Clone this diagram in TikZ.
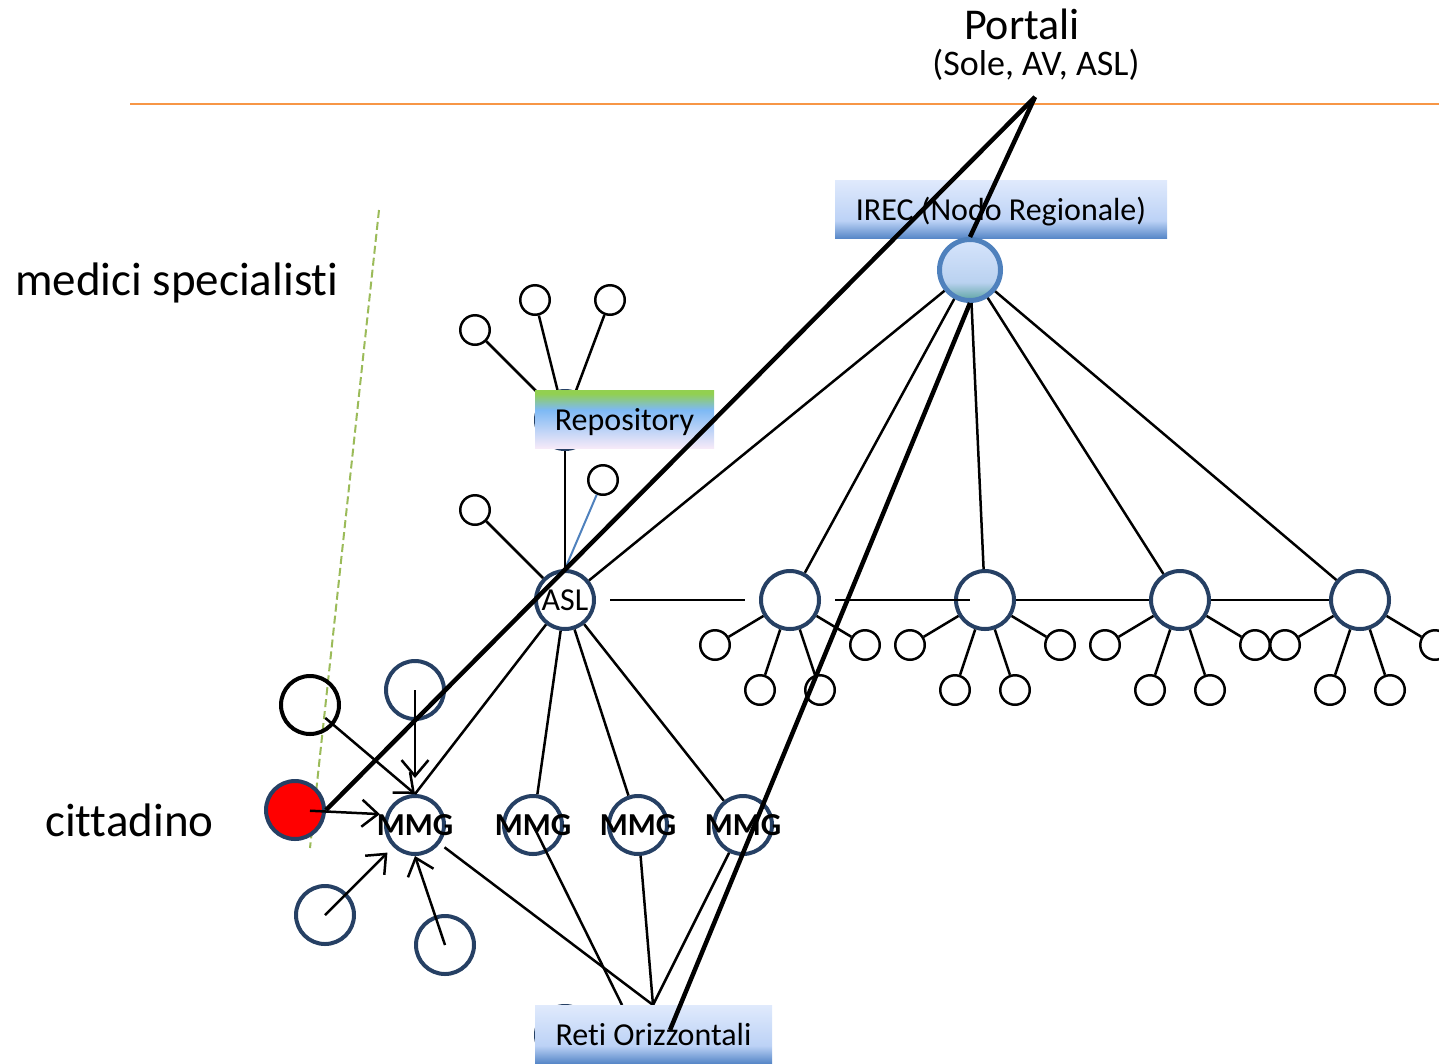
\documentclass[tikz,border=0pt]{standalone}
\usepackage{fontspec}
\setmainfont{Carlito}[Ligatures={NoCommon,NoContextual,NoRequired}]
\usetikzlibrary{arrows.meta}
\definecolor{navyline}{RGB}{38,64,100}
\definecolor{irecblue}{RGB}{79,129,189}
\definecolor{portalorange}{RGB}{247,150,70}
\definecolor{specgreen}{RGB}{155,187,89}
\definecolor{boxtop}{RGB}{224,234,252}
\definecolor{boxmid}{RGB}{188,210,246}
\definecolor{boxbottom}{RGB}{88,136,200}
\definecolor{repotop}{RGB}{146,208,80}
\definecolor{repomid}{RGB}{125,185,245}
\definecolor{repobottom}{RGB}{246,234,248}
\definecolor{hubtop}{RGB}{214,228,252}
\definecolor{hubmid}{RGB}{186,210,240}
\definecolor{hubbottom}{RGB}{104,170,172}
\pgfdeclareverticalshading{bannershade}{100bp}{color(0bp)=(boxbottom); color(25bp)=(boxbottom); color(40bp)=(boxmid); color(75bp)=(boxtop); color(100bp)=(boxtop)}
\pgfdeclareverticalshading{reposhade}{100bp}{color(0bp)=(repobottom); color(25bp)=(repobottom); color(58bp)=(repomid); color(72bp)=(repotop); color(100bp)=(repotop)}
\pgfdeclareverticalshading{hubshade}{100bp}{color(0bp)=(hubbottom); color(27bp)=(hubbottom); color(40bp)=(hubmid); color(75bp)=(hubtop); color(100bp)=(hubtop)}
\tikzset{
    Hub/.style = {circle, draw=navyline, line width=4pt, minimum size=58pt, inner sep=0pt}
}
\tikzset{
    Leaf/.style = {circle, draw=black, line width=2.5pt, minimum size=29.5pt, inner sep=0pt}
}
\tikzset{
    Link/.style = {draw=black, line width=2.5pt}
}
\tikzset{
    Feed/.style = {draw=black, line width=2.5pt, -{Straight Barb[length=16pt,width=27pt]}}
}

\begin{document}
\begin{tikzpicture}[
    x=1pt, y=-1pt,
    font=\fontsize{32}{38}\selectfont
]
\tikzset{
    Banner/.style = {minimum height=58pt, inner sep=0pt, text height=22pt, text depth=0pt, shade, shading=bannershade},
    Portal/.style = {draw=black, line width=4.5pt},
    MmgText/.style = {inner sep=0pt, font=\bfseries\fontsize{32}{38}\selectfont},
}
\useasboundingbox (0,0) rectangle (1439,1063);

% titles
\node[anchor=west, inner sep=0pt, font=\fontsize{47}{54}\selectfont] at (15,283) (medici) {medici specialisti};
\node[anchor=west, inner sep=0pt, font=\fontsize{47}{54}\selectfont] at (45,820) (cittadinolab) {cittadino};
\node[inner sep=0pt, font=\fontsize{44}{50}\selectfont] at (1022,24) (portali) {Portali};
\node[inner sep=0pt, font=\fontsize{36}{42}\selectfont] at (1036,65) (portalisub) {(Sole, AV, ASL)};

\coordinate (bandl) at (130,104);
\coordinate (bandr) at (1439,104);
\draw[portalorange, line width=2.5pt] (bandl) -- (bandr);
\coordinate (spectop) at (379,210);
\coordinate (specbot) at (310,848);
\draw[specgreen, line width=2pt, dash pattern=on 8pt off 4pt] (spectop) -- (specbot);

% regional node
\node[Banner, minimum width=332pt] at (1001,209) (irecbox) {IREC (Nodo Regionale)};
\node[Hub, draw=irecblue, line width=5pt, minimum size=61pt, shade, shading=hubshade] at (970,270) (irec) {};

% repository
\node[Hub] at (565,420) (repo) {};
\node[Leaf] at (475,330) (repoa) {};
\node[Leaf] at (535,300) (repob) {};
\node[Leaf] at (610,300) (repoc) {};
\path (repoa) edge [Link] (repo);
\path (repob) edge [Link] (repo);
\path (repoc) edge [Link] (repo);
\node[Banner, minimum width=179pt, shading=reposhade] at (624.5,419) (repobox) {Repository};

% ASL
\node[Hub, label={center:ASL}] at (565,600) (asl) {};
\node[Leaf] at (475,510) (asla) {};
\node[Leaf] at (603,480) (aslb) {};
\path (asla) edge [Link] (asl);
\path (aslb) edge [Link, draw=irecblue, line width=2pt] (asl.north);
\path (repo) edge [Link] (asl);
\path (asl) edge [Link] (irec);

% other ASL
\node[Hub] at (790,600) (ausla) {};
\node[Hub] at (985,600) (auslb) {};
\node[Hub] at (1180,600) (auslc) {};
\node[Hub] at (1360,600) (ausld) {};
\path (asl) edge [Link, shorten <=14pt, shorten >=14pt] (ausla);
\path (ausla) edge [Link, shorten <=14pt, shorten >=15pt] (auslb.center);
\path (auslb) edge [Link] (auslc);
\path (auslc) edge [Link] (ausld);
\path (irec) edge [Link] (ausla);
\path (irec) edge [Link] (auslb);
\path (irec) edge [Link] (auslc);
\path (irec) edge [Link] (ausld);

\node[Leaf] at (715,645) (ausla1) {};
\node[Leaf] at (760,690) (ausla2) {};
\node[Leaf] at (820,690) (ausla3) {};
\node[Leaf] at (865,645) (ausla4) {};
\node[Leaf] at (910,645) (auslb1) {};
\node[Leaf] at (955,690) (auslb2) {};
\node[Leaf] at (1015,690) (auslb3) {};
\node[Leaf] at (1060,645) (auslb4) {};
\node[Leaf] at (1105,645) (auslc1) {};
\node[Leaf] at (1150,690) (auslc2) {};
\node[Leaf] at (1210,690) (auslc3) {};
\node[Leaf] at (1255,645) (auslc4) {};
\node[Leaf] at (1285,645) (ausld1) {};
\node[Leaf] at (1330,690) (ausld2) {};
\node[Leaf] at (1390,690) (ausld3) {};
\node[Leaf] at (1435,645) (ausld4) {};
\path (ausla1) edge [Link] (ausla);
\path (ausla2) edge [Link] (ausla);
\path (ausla3) edge [Link] (ausla);
\path (ausla4) edge [Link] (ausla);
\path (auslb1) edge [Link] (auslb);
\path (auslb2) edge [Link] (auslb);
\path (auslb3) edge [Link] (auslb);
\path (auslb4) edge [Link] (auslb);
\path (auslc1) edge [Link] (auslc);
\path (auslc2) edge [Link] (auslc);
\path (auslc3) edge [Link] (auslc);
\path (auslc4) edge [Link] (auslc);
\path (ausld1) edge [Link] (ausld);
\path (ausld2) edge [Link] (ausld);
\path (ausld3) edge [Link] (ausld);
\path (ausld4) edge [Link] (ausld);

% MMG
\node[Hub, label={[MmgText]center:MMG}] at (415,825) (mmga) {};
\node[Hub, label={[MmgText]center:MMG}] at (533,825) (mmgb) {};
\node[Hub, label={[MmgText]center:MMG}] at (638,825) (mmgc) {};
\node[Hub, label={[MmgText]center:MMG}] at (743,825) (mmgd) {};
\path (asl) edge [Link] (mmga.north);
\path (asl) edge [Link] (mmgb);
\path (asl) edge [Link] (mmgc);
\path (asl) edge [Link] (mmgd);

% around the first MMG
\node[Hub, draw=black] at (310,705) (specb) {};
\node[Hub] at (415,690) (speca) {};
\node[Hub, fill=red] at (295,810) (cittadino) {};
\node[Hub] at (325,915) (specc) {};
\node[Hub] at (445,945) (specd) {};
\path (specb.center) edge [Feed, shorten <=20pt] (mmga.north);
\path (speca.center) edge [Feed, shorten >=16pt] (mmga.north);
\path (cittadino.center) edge [Feed, shorten <=15pt, shorten >=6pt] (mmga.160);
\path (specc.center) edge [Feed, shorten >=8pt] (mmga.225);
\path (specd.center) edge [Feed] (mmga.south);

% horizontal networks
\node[Hub] at (565,1035) (retic) {};
\coordinate (retileft) at (622,1005);
\coordinate (retitop) at (653,1005);
\path (mmga) edge [Link, shorten <=6pt] (retitop);
\path (mmgb.center) edge [Link] (retileft);
\path (mmgc) edge [Link] (retitop);
\path (mmgd) edge [Link] (retitop);
\node[Banner, minimum width=237pt] at (653.5,1034) (reti) {Reti Orizzontali};

% portals
\coordinate (portal) at (1035,97);
\coordinate (retiend) at (670,1030);
\path (portal) edge [Portal] (cittadino.east);
\path (portal) edge [Portal] (irec.north);
\path (irec.south) edge [Portal] (retiend);
\end{tikzpicture}
\end{document}
